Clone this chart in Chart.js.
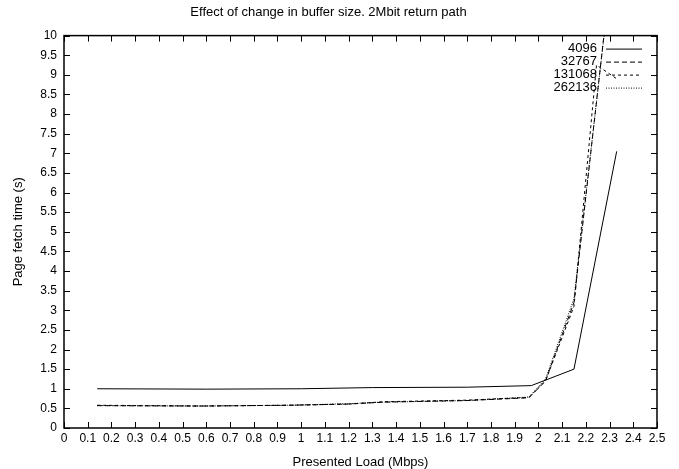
<!DOCTYPE html>
<html>
  <head>
    <title>Effect of change in buffer size</title>
    <script src="https://cdn.jsdelivr.net/npm/chart.js"></script>
    <style>
      body { margin: 0; background: #fff; }
      canvas { display: block; }
    </style>
  </head>
  <body>
    <canvas id="chart" width="679" height="469"></canvas>
    <script>
      // values
      let seriesNames = ["4096", "32767", "131068", "262136"];

      let load4096 = [0.14, 0.6, 1.0, 1.3, 1.7, 1.97, 2.15, 2.33];
      let time4096 = [1.0, 0.99, 1.0, 1.03, 1.04, 1.08, 1.5, 7.05];

      let load32767 = [0.14, 0.58, 0.95, 1.2, 1.35, 1.7, 1.96, 2.03, 2.15, 2.33];
      let time32767 = [0.57, 0.56, 0.58, 0.61, 0.66, 0.7, 0.77, 1.2, 3.2, 12.9];

      let load131068 = [0.14, 0.58, 0.95, 1.2, 1.35, 1.7, 1.96, 2.03, 2.15, 2.245, 2.33];
      let time131068 = [0.58, 0.56, 0.58, 0.61, 0.67, 0.71, 0.78, 1.2, 3.1, 9.25, 8.9];

      let load262136 = [0.14, 0.58, 0.95, 1.2, 1.35, 1.7, 1.96, 2.03, 2.15, 2.33];
      let time262136 = [0.57, 0.56, 0.58, 0.62, 0.66, 0.7, 0.79, 1.25, 3.3, 12.8];

      let dashes = [[], [5, 3], [3, 3], [1, 1.5]];

      let pairs = (xs, ys) => xs.map((x, i) => ({ x: x, y: ys[i] }));
      let loads = [load4096, load32767, load131068, load262136];
      let times = [time4096, time32767, time131068, time262136];

      let family = "'Liberation Sans', Arial, sans-serif";
      let font = { family: family, size: 13, weight: "normal" };
      let tickFont = { family: family, size: 12 };

      // gnuplot-ish frame, inward ticks on all sides, legend at top right
      let framePlugin = {
        id: "frame",
        afterDraw(chart) {
          let c = chart.ctx;
          let a = chart.chartArea;
          let xs = chart.scales.x;
          let ys = chart.scales.y;
          c.save();
          c.strokeStyle = "#000";
          c.lineWidth = 1;
          c.setLineDash([]);
          c.beginPath();
          xs.ticks.forEach((t) => {
            let px = Math.round(xs.getPixelForValue(t.value)) + 0.5;
            c.moveTo(px, a.bottom);
            c.lineTo(px, a.bottom - 6);
            c.moveTo(px, a.top);
            c.lineTo(px, a.top + 6);
          });
          ys.ticks.forEach((t) => {
            let py = Math.round(ys.getPixelForValue(t.value)) + 0.5;
            c.moveTo(a.left, py);
            c.lineTo(a.left + 6, py);
            c.moveTo(a.right, py);
            c.lineTo(a.right - 6, py);
          });
          c.stroke();
          c.lineWidth = 1.5;
          c.strokeRect(a.left, a.top, a.right - a.left, a.bottom - a.top);

          c.font = font.size + "px " + family;
          c.fillStyle = "#000";
          c.textAlign = "right";
          c.textBaseline = "middle";
          seriesNames.forEach((name, i) => {
            let y = a.top + 13 + i * 13;
            c.fillText(name, a.right - 60, y);
            c.beginPath();
            c.lineWidth = 1;
            c.setLineDash(dashes[i]);
            c.moveTo(a.right - 51, y + 0.5);
            c.lineTo(a.right - 15, y + 0.5);
            c.stroke();
          });
          c.restore();
        },
      };

      let ctx = document.getElementById("chart").getContext("2d");
      let chart = new Chart(ctx, {
        type: "line",
        data: {
          datasets: seriesNames.map((name, i) => ({
            label: name,
            data: pairs(loads[i], times[i]),
            borderColor: "#000",
            borderWidth: 1,
            borderDash: dashes[i],
            pointRadius: 0,
            tension: 0,
            fill: false,
          })),
        },
        options: {
          responsive: false,
          animation: false,
          layout: { padding: { left: 0, right: 22, top: 0, bottom: 0 } },
          plugins: {
            legend: { display: false },
            tooltip: { enabled: false },
            title: {
              display: true,
              text: "Effect of change in buffer size. 2Mbit return path",
              color: "#000",
              font: font,
              padding: { top: 5, bottom: 15 },
            },
          },
          scales: {
            x: {
              type: "linear",
              min: 0,
              max: 2.5,
              afterFit: (s) => { s.height = 41; },
              grid: { display: false, drawTicks: false },
              border: { display: false },
              ticks: {
                stepSize: 0.1,
                color: "#000",
                font: tickFont,
                padding: 3,
                maxRotation: 0,
                autoSkip: false,
                callback: (v) => String(Number(v.toFixed(1))),
              },
              title: {
                display: true,
                text: "Presented Load (Mbps)",
                color: "#000",
                font: { family: family, size: 13, lineHeight: 1 },
                padding: { top: 0, bottom: 0 },
              },
            },
            y: {
              min: 0,
              max: 10,
              afterFit: (s) => { s.width = 64; },
              grid: { display: false, drawTicks: false },
              border: { display: false },
              ticks: {
                stepSize: 0.5,
                color: "#000",
                font: tickFont,
                padding: 7,
                autoSkip: false,
                callback: (v) => String(Number(v.toFixed(1))),
              },
              title: {
                display: true,
                text: "Page fetch time (s)",
                color: "#000",
                font: { family: family, size: 13, lineHeight: 1 },
                padding: { top: 12, bottom: 0 },
              },
            },
          },
        },
        plugins: [framePlugin],
      });
    </script>
  </body>
</html>
